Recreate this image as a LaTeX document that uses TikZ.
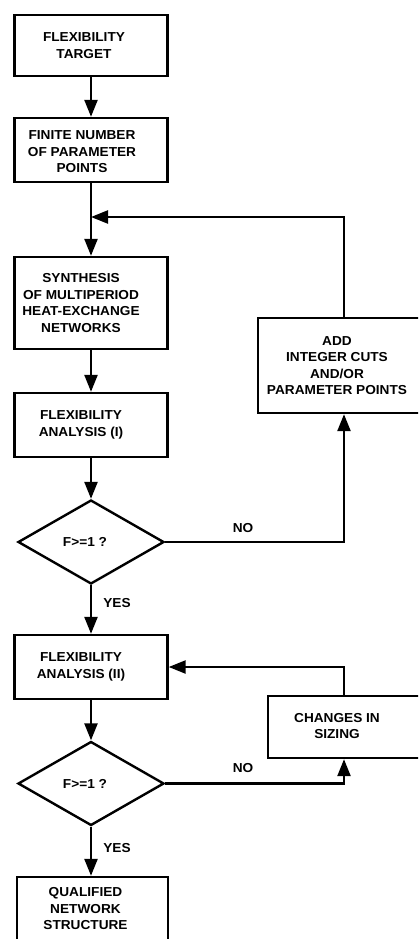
\documentclass[tikz,border=0pt]{standalone}
\usepackage{fontspec}
\setmainfont[FakeStretch=1.05]{Liberation Sans}
\usetikzlibrary{shapes.geometric,arrows.meta}
\newcommand\chartfont{\fontsize{13}{16.5}\selectfont\bfseries}
\begin{document}
\begin{tikzpicture}[x=1pt,y=-1pt,
  box/.style={draw, rectangle, line width=2.4pt, inner sep=0pt},
  decision/.style={draw, diamond, line width=2.4pt, inner sep=0pt, minimum width=146pt, minimum height=84pt},
  tag/.style={font=\chartfont, inner sep=0pt, align=center},
  conn/.style={line width=2.4pt, -{Triangle[length=17pt,width=13pt]}},
]
\useasboundingbox (0,0) rectangle (418,939);
\clip (0,0) rectangle (418,939);

% main column: frames carry their text as a centred label, set slightly left
\node[box, minimum width=153pt, minimum height=61pt,
  label={[tag, xshift=-7pt]center:FLEXIBILITY\\TARGET}] (A) at (91,45.5) {};
\node[box, minimum width=153pt, minimum height=64pt,
  label={[tag, xshift=-9pt, yshift=-2pt]center:FINITE NUMBER\\OF PARAMETER\\POINTS}] (B) at (91,150) {};
\node[box, minimum width=153pt, minimum height=92pt,
  label={[tag, xshift=-10pt]center:SYNTHESIS\\OF MULTIPERIOD\\HEAT-EXCHANGE\\NETWORKS}] (C) at (91,303) {};
\node[box, minimum width=153pt, minimum height=64pt,
  label={[tag, xshift=-10pt]center:FLEXIBILITY\\ANALYSIS (I)}] (D) at (91,425) {};
\node[decision, label={[tag, xshift=-6pt]center:F>=1 ?}] (Q1) at (91,542) {};
\node[box, minimum width=153pt, minimum height=64pt,
  label={[tag, xshift=-10pt]center:FLEXIBILITY\\ANALYSIS (II)}] (F) at (91,667) {};
\node[decision, label={[tag, xshift=-6pt]center:F>=1 ?}] (Q2) at (91,783.5) {};
\node[box, minimum width=151pt, minimum height=64pt,
  label={[tag, xshift=-7pt]center:QUALIFIED\\NETWORK\\STRUCTURE}] (H) at (92.5,909) {};

% right column (frames run past the right edge)
\node[box, minimum width=164pt, minimum height=95pt,
  label={[tag, xshift=-3pt]center:ADD\\INTEGER CUTS\\AND/OR\\PARAMETER POINTS}] (E) at (340,365.5) {};
\node[box, minimum width=156pt, minimum height=62pt,
  label={[tag, xshift=-9pt, yshift=1pt]center:CHANGES IN\\SIZING}] (G) at (346,727) {};

% junctions and risers
\coordinate (J) at (91,217);
\coordinate (R1) at (344,217);
\coordinate (R2) at (344,667);

% connectors
\draw[conn] (A) -- (B);
\draw[conn] (B) -- (C);
\draw[conn] (R1 |- E.north) -- (R1) -- (J);
\draw[conn] (C) -- (D);
\draw[conn] (D) -- (Q1);
\draw[conn] (Q1.east) -| (R1 |- E.south);
\draw[conn] (Q1) -- (F);
\draw[conn] (R2 |- G.north) -- (R2) -- (F.east);
\draw[conn] (F) -- (Q2);
\draw[conn] (Q2.east) -| (R2 |- G.south);
\draw[conn] (Q2.south) -- (Q2.south |- H.north);

% branch labels
\node[tag] (no1) at (243,528) {NO};
\node[tag] (yes1) at (117,603) {YES};
\node[tag] (no2) at (243,768) {NO};
\node[tag] (yes2) at (117,848) {YES};
\end{tikzpicture}
\end{document}
